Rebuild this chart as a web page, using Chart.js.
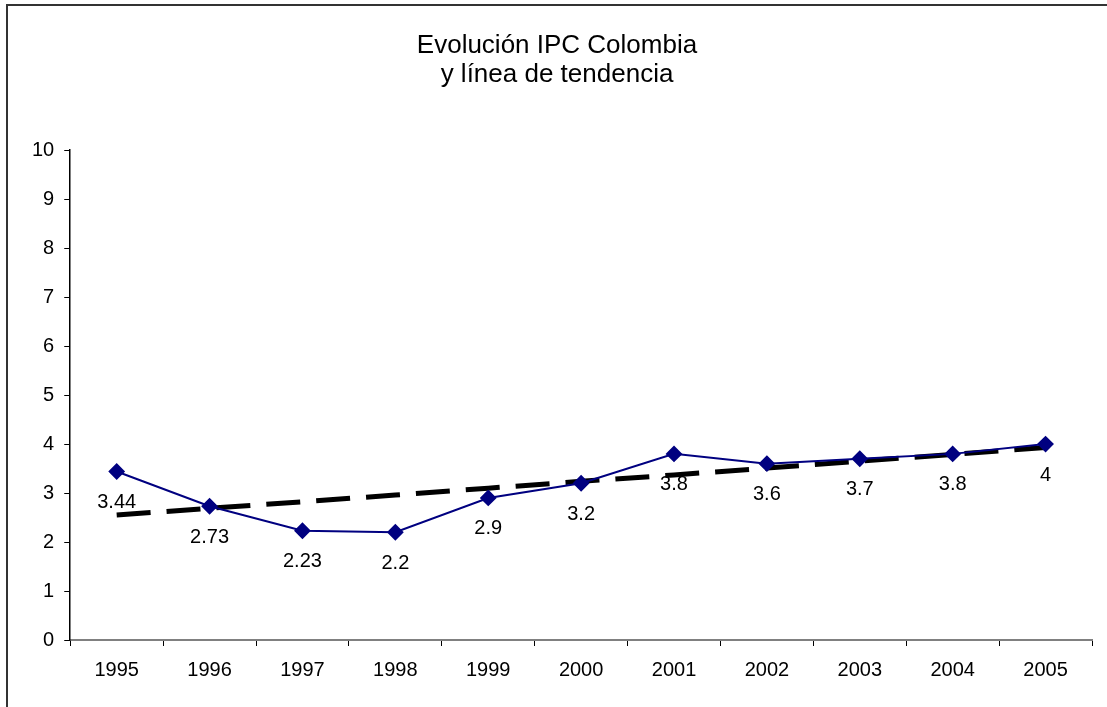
<!DOCTYPE html>
<html>
<head>
<meta charset="utf-8">
<script src="https://cdn.jsdelivr.net/npm/chart.js@4.4.1/dist/chart.umd.min.js"></script>
<style>
  body { margin: 0; background: #fff; overflow: hidden; }
  #frame { position: absolute; left: 6px; top: 4px; width: 1200px; height: 800px;
           border-top: 2px solid #333; border-left: 2px solid #333; }
  #wrap { position: absolute; left: 0; top: 0; width: 1107px; height: 707px; }
</style>
</head>
<body>
<div id="frame"></div>
<div id="wrap"><canvas id="ipcChart"></canvas></div>
<script>
// datos
const years = ['1995', '1996', '1997', '1998', '1999', '2000', '2001', '2002', '2003', '2004', '2005'];
const ipc = [3.44, 2.73, 2.23, 2.2, 2.9, 3.2, 3.8, 3.6, 3.7, 3.8, 4];
// línea de tendencia
const tendencia = [2.55, 2.69, 2.82, 2.96, 3.1, 3.24, 3.37, 3.51, 3.65, 3.79, 3.93];
const titleLines = ['Evolución IPC Colombia', 'y línea de tendencia'];

const FONT = 'Liberation Sans, Arial, sans-serif';

// etiquetas de valor debajo de cada punto
const valueLabels = {
    id: 'valueLabels',
    afterDatasetsDraw(chart) {
        const ctx = chart.ctx;
        const meta = chart.getDatasetMeta(0);
        ctx.save();
        ctx.font = '20px ' + FONT;
        ctx.fillStyle = '#000';
        ctx.textAlign = 'center';
        ctx.textBaseline = 'middle';
        meta.data.forEach((pt, i) => {
            ctx.fillText(String(ipc[i]), pt.x, pt.y + 31);
        });
        ctx.restore();
    }
};

new Chart(document.getElementById('ipcChart'), {
    type: 'line',
    data: {
        labels: years,
        datasets: [{
            data: ipc,
            borderColor: '#000080',
            borderWidth: 2,
            pointStyle: 'rectRot',
            pointRadius: 7,
            pointHoverRadius: 7,
            pointBackgroundColor: '#000080',
            pointBorderColor: '#000080',
            tension: 0
        }, {
            data: tendencia,
            borderColor: '#000',
            borderWidth: 5,
            borderDash: [34, 16],
            pointRadius: 0,
            tension: 0
        }]
    },
    options: {
        responsive: true,
        maintainAspectRatio: false,
        animation: false,
        layout: { padding: { left: 22, right: 15, top: 20, bottom: 13 } },
        plugins: {
            legend: { display: false },
            tooltip: { enabled: false },
            title: {
                display: true,
                text: titleLines,
                color: '#000',
                font: { family: FONT, size: 26, weight: 'normal', lineHeight: 1.1 },
                padding: { top: 12, bottom: 61 }
            }
        },
        scales: {
            x: {
                offset: true,
                grid: { offset: true, drawOnChartArea: false, drawTicks: true, tickLength: 6, color: '#000' },
                border: { color: '#808080', width: 2 },
                ticks: { color: '#000', font: { family: FONT, size: 20 }, padding: 12, maxRotation: 0 }
            },
            y: {
                min: 0,
                max: 10,
                grid: { drawOnChartArea: false, drawTicks: true, tickLength: 6, color: '#000' },
                border: { color: '#000', width: 1.5 },
                ticks: { stepSize: 1, color: '#000', font: { family: FONT, size: 20 }, padding: 10 }
            }
        }
    },
    plugins: [valueLabels]
});
</script>
</body>
</html>
